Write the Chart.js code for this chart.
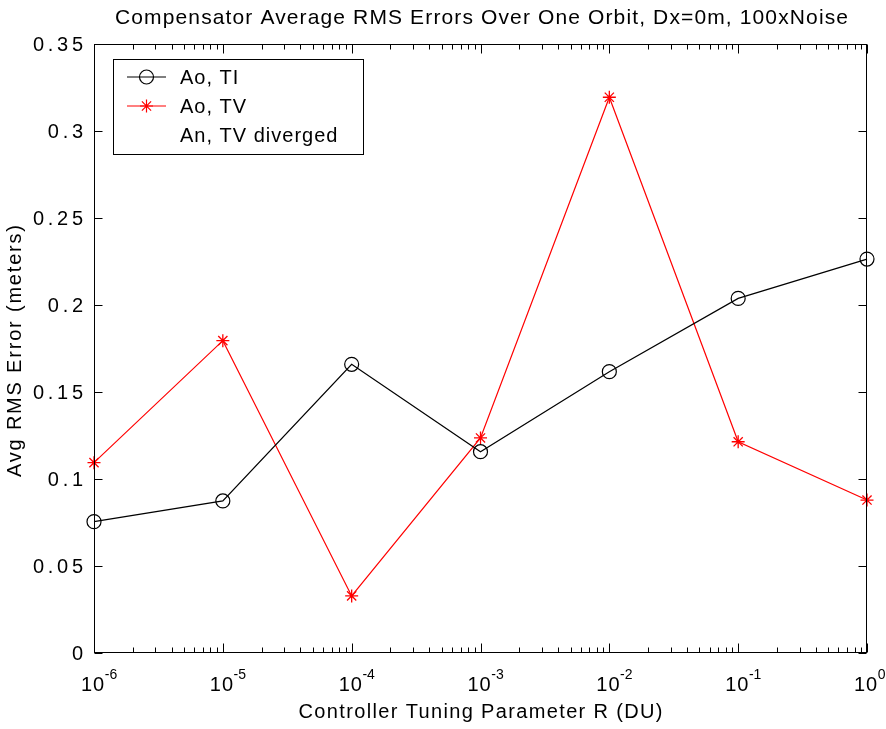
<!DOCTYPE html>
<html>
<head>
<meta charset="utf-8">
<script src="https://cdn.jsdelivr.net/npm/chart.js@4.4.0/dist/chart.umd.min.js"></script>
<style>
  html, body { margin: 0; padding: 0; background: #fff; overflow: hidden; }
  canvas { display: block; }
</style>
</head>
<body>
<canvas id="chart" width="886" height="729"></canvas>
<script>
// values
const rValues = [1e-6, 1e-5, 1e-4, 1e-3, 1e-2, 1e-1, 1];
const aoTI = [0.0755, 0.0874, 0.1659, 0.1157, 0.1617, 0.2038, 0.2264];
const aoTV = [0.1094, 0.1795, 0.0328, 0.1236, 0.3194, 0.1214, 0.0879];
const yTicks = [0, 0.05, 0.1, 0.15, 0.2, 0.25, 0.3, 0.35];
const yTickLabels = ["0", "0.05", "0.1", "0.15", "0.2", "0.25", "0.3", "0.35"];
const xExponents = ["-6", "-5", "-4", "-3", "-2", "-1", "0"];
const seriesNames = ["Ao, TI", "Ao, TV", "An, TV diverged"];
const chartTitle = "Compensator Average RMS Errors Over One Orbit, Dx=0m, 100xNoise";
const xTitle = "Controller Tuning Parameter R (DU)";
const yTitle = "Avg RMS Error (meters)";

const FONT = '"Liberation Sans", Arial, sans-serif';

// draw a string stretched (by letter spacing) to a given width
function spaced(ctx, text, x, y, size, target, align) {
  ctx.font = size + "px " + FONT;
  ctx.letterSpacing = "0px";
  const w = ctx.measureText(text).width;
  const sp = text.length > 1 ? (target - w) / (text.length - 1) : 0;
  ctx.letterSpacing = sp + "px";
  let x0 = x;
  if (align === "center") x0 = x - target / 2;
  if (align === "right") x0 = x - target;
  ctx.textAlign = "left";
  ctx.fillText(text, x0, y);
  ctx.letterSpacing = "0px";
}

function marker(ctx, style, color, r, x, y) {
  ctx.save();
  ctx.strokeStyle = color;
  ctx.lineWidth = 1.2;
  ctx.beginPath();
  if (style === "circle") {
    ctx.arc(x, y, r, 0, Math.PI * 2);
  } else {
    for (let k = 0; k < 4; k++) {
      const a = k * Math.PI / 4;
      ctx.moveTo(x - r * Math.cos(a), y - r * Math.sin(a));
      ctx.lineTo(x + r * Math.cos(a), y + r * Math.sin(a));
    }
  }
  ctx.stroke();
  ctx.restore();
}

const axesPlugin = {
  id: "matlabAxes",
  afterDraw(chart) {
    const ctx = chart.ctx;
    const a = chart.chartArea;
    const xs = chart.scales.x, ys = chart.scales.y;
    const L = Math.round(a.left) + 0.5, R = Math.round(a.right) - 0.5;
    const T = Math.round(a.top) + 0.5, B = Math.round(a.bottom) - 0.5;
    ctx.save();
    ctx.strokeStyle = "#000";
    ctx.lineWidth = 1;
    ctx.strokeRect(L, T, R - L, B - T);

    // x ticks (log, inside, top and bottom)
    ctx.beginPath();
    for (let d = -6; d <= 0; d++) {
      const px = Math.round(xs.getPixelForValue(Math.pow(10, d))) + 0.5;
      ctx.moveTo(px, B); ctx.lineTo(px, B - 9);
      ctx.moveTo(px, T); ctx.lineTo(px, T + 9);
      if (d < 0) {
        for (let k = 2; k <= 9; k++) {
          const mx = Math.round(xs.getPixelForValue(k * Math.pow(10, d))) + 0.5;
          ctx.moveTo(mx, B); ctx.lineTo(mx, B - 5);
          ctx.moveTo(mx, T); ctx.lineTo(mx, T + 5);
        }
      }
    }
    // y ticks
    yTicks.forEach(v => {
      const py = Math.round(ys.getPixelForValue(v)) + 0.5;
      ctx.moveTo(L, py); ctx.lineTo(L + 8, py);
      ctx.moveTo(R, py); ctx.lineTo(R - 8, py);
    });
    ctx.stroke();

    ctx.fillStyle = "#000";
    ctx.textBaseline = "alphabetic";

    // title
    spaced(ctx, chartTitle, (a.left + a.right) / 2 + 1, 24, 21, 733, "center");

    // y tick labels
    ctx.font = "20px " + FONT;
    const refW = ctx.measureText("0.35").width;
    const ySp = (50 - refW) / 3;
    yTickLabels.forEach((lab, i) => {
      const py = ys.getPixelForValue(yTicks[i]);
      ctx.font = "20px " + FONT;
      const w = ctx.measureText(lab).width + ySp * (lab.length - 1);
      spaced(ctx, lab, 83, py + 7, 20, w, "right");
    });

    // x tick labels 10^n
    xExponents.forEach(e => {
      const px = xs.getPixelForValue(Math.pow(10, +e));
      ctx.font = "20px " + FONT;
      const bw = ctx.measureText("10").width + 1;
      spaced(ctx, "10", px - 13, 691, 20, bw, "left");
      ctx.font = "14px " + FONT;
      ctx.textAlign = "left";
      ctx.fillText(e, px - 13 + bw + 0.5, 679);
    });

    // axis titles
    spaced(ctx, xTitle, (a.left + a.right) / 2, 718, 20, 364, "center");
    ctx.save();
    ctx.translate(21, 351);
    ctx.rotate(-Math.PI / 2);
    spaced(ctx, yTitle, 0, 0, 20, 252, "center");
    ctx.restore();

    // legend
    const bx = 113.5, by = 59.5, bw = 250, bh = 95;
    ctx.fillStyle = "#fff";
    ctx.fillRect(bx, by, bw, bh);
    ctx.strokeRect(bx, by, bw, bh);
    chart.data.datasets.forEach((ds, i) => {
      const ly = 77 + i * 29;
      if (ds.showInLegendLine) {
        ctx.strokeStyle = ds.borderColor;
        ctx.lineWidth = 1.2;
        ctx.beginPath();
        ctx.moveTo(127, ly); ctx.lineTo(166, ly);
        ctx.stroke();
        marker(ctx, ds.pointStyle, ds.borderColor, ds.pointRadius, 146.5, ly);
      }
      ctx.fillStyle = "#000";
      ctx.font = "20px " + FONT;
      const w = ctx.measureText(ds.label).width + 1.0 * (ds.label.length - 1);
      spaced(ctx, ds.label, 180, ly + 7, 20, w, "left");
    });
    ctx.restore();
  }
};

const toPoints = ys => rValues.map((r, i) => ({ x: r, y: ys[i] }));

new Chart(document.getElementById("chart"), {
  type: "line",
  data: {
    datasets: [
      {
        label: seriesNames[0], data: toPoints(aoTI),
        borderColor: "#000000", borderWidth: 1.2, tension: 0, fill: false,
        pointStyle: "circle", pointRadius: 7, pointBorderWidth: 1.2,
        pointBorderColor: "#000000", pointBackgroundColor: "rgba(0,0,0,0)",
        clip: false, showInLegendLine: true
      },
      {
        label: seriesNames[1], data: toPoints(aoTV),
        borderColor: "#ff0000", borderWidth: 1.2, tension: 0, fill: false,
        pointStyle: "star", pointRadius: 6.5, pointBorderWidth: 1.3,
        pointBorderColor: "#ff0000", pointBackgroundColor: "#ff0000",
        clip: false, showInLegendLine: true
      },
      {
        label: seriesNames[2], data: [],
        borderColor: "rgba(0,0,0,0)", pointRadius: 0, showLine: false,
        showInLegendLine: false
      }
    ]
  },
  options: {
    responsive: false,
    animation: false,
    events: [],
    layout: { padding: { left: 94, right: 19, top: 44, bottom: 76 } },
    plugins: { legend: { display: false }, title: { display: false }, tooltip: { enabled: false } },
    scales: {
      x: { type: "logarithmic", min: 1e-6, max: 1, display: false },
      y: { type: "linear", min: 0, max: 0.35, display: false }
    }
  },
  plugins: [axesPlugin]
});
</script>
</body>
</html>
